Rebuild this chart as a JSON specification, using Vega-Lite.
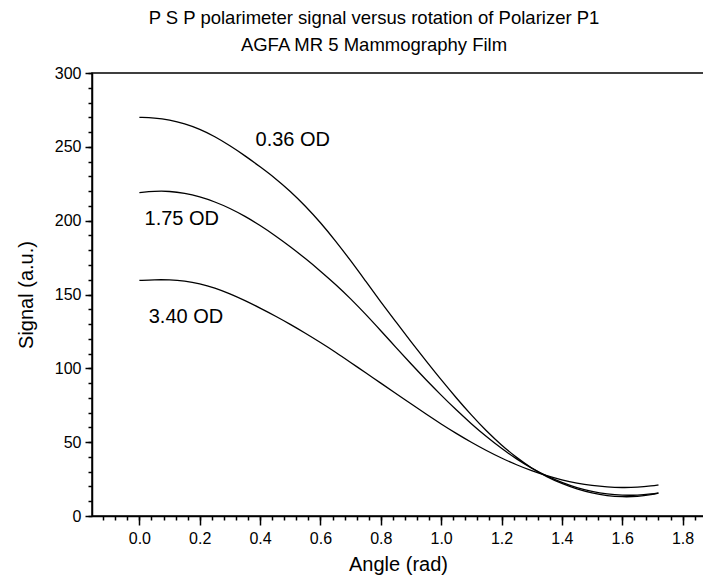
{
  "$schema": "https://vega.github.io/schema/vega-lite/v6.json",
  "autosize": {"type": "none"},
  "padding": {"left": 92, "top": 73, "right": 0, "bottom": 68},
  "width": 612,
  "height": 443,
  "background": "white",
  "config": {
    "font": "Liberation Sans",
    "view": {"stroke": "black", "strokeWidth": 1.5},
    "axis": {"grid": false, "domainColor": "black", "tickColor": "black", "labelColor": "black", "titleColor": "black", "labelFont": "Liberation Sans", "titleFont": "Liberation Sans", "titleFontWeight": "normal"}
  },
  "title": {
    "text": ["P S P polarimeter signal versus rotation of Polarizer P1", "AGFA MR 5 Mammography Film"],
    "fontSize": 18.5,
    "fontWeight": "normal",
    "font": "Liberation Sans",
    "color": "black",
    "anchor": "middle",
    "dx": -24,
    "lineHeight": 27,
    "offset": 11
  },
  "datasets": {
    "curves": [
      {"angle": 0.00, "signal": 270, "film": "0.36 OD"},
      {"angle": 0.05, "signal": 269.6, "film": "0.36 OD"},
      {"angle": 0.10, "signal": 268.2, "film": "0.36 OD"},
      {"angle": 0.15, "signal": 265.7, "film": "0.36 OD"},
      {"angle": 0.20, "signal": 262, "film": "0.36 OD"},
      {"angle": 0.25, "signal": 257, "film": "0.36 OD"},
      {"angle": 0.30, "signal": 250.8, "film": "0.36 OD"},
      {"angle": 0.35, "signal": 244, "film": "0.36 OD"},
      {"angle": 0.40, "signal": 236.5, "film": "0.36 OD"},
      {"angle": 0.45, "signal": 228.8, "film": "0.36 OD"},
      {"angle": 0.50, "signal": 220, "film": "0.36 OD"},
      {"angle": 0.55, "signal": 210, "film": "0.36 OD"},
      {"angle": 0.60, "signal": 198.8, "film": "0.36 OD"},
      {"angle": 0.65, "signal": 186.3, "film": "0.36 OD"},
      {"angle": 0.70, "signal": 173, "film": "0.36 OD"},
      {"angle": 0.75, "signal": 159, "film": "0.36 OD"},
      {"angle": 0.80, "signal": 145, "film": "0.36 OD"},
      {"angle": 0.85, "signal": 131.5, "film": "0.36 OD"},
      {"angle": 0.90, "signal": 118, "film": "0.36 OD"},
      {"angle": 0.95, "signal": 105, "film": "0.36 OD"},
      {"angle": 1.00, "signal": 92.2, "film": "0.36 OD"},
      {"angle": 1.05, "signal": 80, "film": "0.36 OD"},
      {"angle": 1.10, "signal": 68.3, "film": "0.36 OD"},
      {"angle": 1.15, "signal": 57.5, "film": "0.36 OD"},
      {"angle": 1.20, "signal": 47.9, "film": "0.36 OD"},
      {"angle": 1.25, "signal": 39.5, "film": "0.36 OD"},
      {"angle": 1.30, "signal": 32.3, "film": "0.36 OD"},
      {"angle": 1.35, "signal": 26.5, "film": "0.36 OD"},
      {"angle": 1.40, "signal": 21.9, "film": "0.36 OD"},
      {"angle": 1.45, "signal": 18.2, "film": "0.36 OD"},
      {"angle": 1.50, "signal": 15.5, "film": "0.36 OD"},
      {"angle": 1.55, "signal": 13.7, "film": "0.36 OD"},
      {"angle": 1.60, "signal": 12.9, "film": "0.36 OD"},
      {"angle": 1.65, "signal": 13.1, "film": "0.36 OD"},
      {"angle": 1.70, "signal": 14.6, "film": "0.36 OD"},
      {"angle": 1.72, "signal": 15.5, "film": "0.36 OD"},
      {"angle": 0.00, "signal": 219, "film": "1.75 OD"},
      {"angle": 0.05, "signal": 220, "film": "1.75 OD"},
      {"angle": 0.10, "signal": 220, "film": "1.75 OD"},
      {"angle": 0.15, "signal": 218.6, "film": "1.75 OD"},
      {"angle": 0.20, "signal": 216.2, "film": "1.75 OD"},
      {"angle": 0.25, "signal": 212.8, "film": "1.75 OD"},
      {"angle": 0.30, "signal": 208.4, "film": "1.75 OD"},
      {"angle": 0.35, "signal": 203, "film": "1.75 OD"},
      {"angle": 0.40, "signal": 196.8, "film": "1.75 OD"},
      {"angle": 0.45, "signal": 189.9, "film": "1.75 OD"},
      {"angle": 0.50, "signal": 182.4, "film": "1.75 OD"},
      {"angle": 0.55, "signal": 174.4, "film": "1.75 OD"},
      {"angle": 0.60, "signal": 165.9, "film": "1.75 OD"},
      {"angle": 0.65, "signal": 156.9, "film": "1.75 OD"},
      {"angle": 0.70, "signal": 147.2, "film": "1.75 OD"},
      {"angle": 0.75, "signal": 136.6, "film": "1.75 OD"},
      {"angle": 0.80, "signal": 125.5, "film": "1.75 OD"},
      {"angle": 0.85, "signal": 114.2, "film": "1.75 OD"},
      {"angle": 0.90, "signal": 103, "film": "1.75 OD"},
      {"angle": 0.95, "signal": 92.2, "film": "1.75 OD"},
      {"angle": 1.00, "signal": 81.8, "film": "1.75 OD"},
      {"angle": 1.05, "signal": 71.8, "film": "1.75 OD"},
      {"angle": 1.10, "signal": 62.4, "film": "1.75 OD"},
      {"angle": 1.15, "signal": 53.7, "film": "1.75 OD"},
      {"angle": 1.20, "signal": 45.7, "film": "1.75 OD"},
      {"angle": 1.25, "signal": 38.5, "film": "1.75 OD"},
      {"angle": 1.30, "signal": 32.3, "film": "1.75 OD"},
      {"angle": 1.35, "signal": 27, "film": "1.75 OD"},
      {"angle": 1.40, "signal": 22.6, "film": "1.75 OD"},
      {"angle": 1.45, "signal": 19.1, "film": "1.75 OD"},
      {"angle": 1.50, "signal": 16.6, "film": "1.75 OD"},
      {"angle": 1.55, "signal": 14.9, "film": "1.75 OD"},
      {"angle": 1.60, "signal": 14, "film": "1.75 OD"},
      {"angle": 1.65, "signal": 14, "film": "1.75 OD"},
      {"angle": 1.70, "signal": 15, "film": "1.75 OD"},
      {"angle": 1.72, "signal": 15.6, "film": "1.75 OD"},
      {"angle": 0.00, "signal": 159.5, "film": "3.40 OD"},
      {"angle": 0.05, "signal": 160, "film": "3.40 OD"},
      {"angle": 0.10, "signal": 160, "film": "3.40 OD"},
      {"angle": 0.15, "signal": 159.2, "film": "3.40 OD"},
      {"angle": 0.20, "signal": 157.4, "film": "3.40 OD"},
      {"angle": 0.25, "signal": 154.5, "film": "3.40 OD"},
      {"angle": 0.30, "signal": 150.5, "film": "3.40 OD"},
      {"angle": 0.35, "signal": 145.9, "film": "3.40 OD"},
      {"angle": 0.40, "signal": 140.8, "film": "3.40 OD"},
      {"angle": 0.45, "signal": 135.5, "film": "3.40 OD"},
      {"angle": 0.50, "signal": 129.8, "film": "3.40 OD"},
      {"angle": 0.55, "signal": 123.8, "film": "3.40 OD"},
      {"angle": 0.60, "signal": 117.5, "film": "3.40 OD"},
      {"angle": 0.65, "signal": 111, "film": "3.40 OD"},
      {"angle": 0.70, "signal": 104, "film": "3.40 OD"},
      {"angle": 0.75, "signal": 97, "film": "3.40 OD"},
      {"angle": 0.80, "signal": 90, "film": "3.40 OD"},
      {"angle": 0.85, "signal": 83, "film": "3.40 OD"},
      {"angle": 0.90, "signal": 76, "film": "3.40 OD"},
      {"angle": 0.95, "signal": 69, "film": "3.40 OD"},
      {"angle": 1.00, "signal": 62.3, "film": "3.40 OD"},
      {"angle": 1.05, "signal": 55.9, "film": "3.40 OD"},
      {"angle": 1.10, "signal": 49.9, "film": "3.40 OD"},
      {"angle": 1.15, "signal": 44.3, "film": "3.40 OD"},
      {"angle": 1.20, "signal": 39.2, "film": "3.40 OD"},
      {"angle": 1.25, "signal": 34.6, "film": "3.40 OD"},
      {"angle": 1.30, "signal": 30.6, "film": "3.40 OD"},
      {"angle": 1.35, "signal": 27.2, "film": "3.40 OD"},
      {"angle": 1.40, "signal": 24.4, "film": "3.40 OD"},
      {"angle": 1.45, "signal": 22.2, "film": "3.40 OD"},
      {"angle": 1.50, "signal": 20.6, "film": "3.40 OD"},
      {"angle": 1.55, "signal": 19.6, "film": "3.40 OD"},
      {"angle": 1.60, "signal": 19.2, "film": "3.40 OD"},
      {"angle": 1.65, "signal": 19.4, "film": "3.40 OD"},
      {"angle": 1.70, "signal": 20.4, "film": "3.40 OD"},
      {"angle": 1.72, "signal": 21, "film": "3.40 OD"}
    ],
    "labels": [
      {"angle": 0.385, "signal": 254.5, "film": "0.36 OD"},
      {"angle": 0.017, "signal": 201, "film": "1.75 OD"},
      {"angle": 0.031, "signal": 135, "film": "3.40 OD"}
    ]
  },
  "layer": [
    {
      "data": {"name": "curves"},
      "mark": {"type": "line", "color": "black", "strokeWidth": 1.3, "interpolate": "basis", "clip": true},
      "encoding": {
        "x": {
          "field": "angle", "type": "quantitative",
          "scale": {"domain": [-0.157, 1.871], "nice": false, "zero": false},
          "axis": {
            "title": "Angle (rad)", "titleFontSize": 20, "titlePadding": 8,
            "values": [0, 0.2, 0.4, 0.6, 0.8, 1.0, 1.2, 1.4, 1.6, 1.8],
            "format": ".1f", "labelFontSize": 16, "labelPadding": 5,
            "tickSize": 9, "tickWidth": 1.5, "domainWidth": 1.5, "labelFlush": false
          }
        },
        "y": {
          "field": "signal", "type": "quantitative",
          "scale": {"domain": [0, 300], "nice": false},
          "axis": {
            "title": "Signal (a.u.)", "titleFontSize": 20, "titlePadding": 18,
            "values": [0, 50, 100, 150, 200, 250, 300],
            "labelFontSize": 16, "labelPadding": 4,
            "tickSize": 7, "tickWidth": 1.5, "domainWidth": 1.5
          }
        },
        "detail": {"field": "film"}
      }
    },
    {
      "data": {"name": "labels"},
      "mark": {"type": "text", "align": "left", "baseline": "middle", "fontSize": 20, "font": "Liberation Sans", "color": "black"},
      "encoding": {
        "x": {
          "field": "angle", "type": "quantitative",
          "axis": {
            "title": null, "labels": false, "domain": false, "orient": "bottom",
            "values": [-0.12, -0.08, -0.04, 0, 0.04, 0.08, 0.12, 0.16, 0.2, 0.24, 0.28, 0.32, 0.36, 0.4, 0.44, 0.48, 0.52, 0.56, 0.6, 0.64, 0.68, 0.72, 0.76, 0.8, 0.84, 0.88, 0.92, 0.96, 1.0, 1.04, 1.08, 1.12, 1.16, 1.2, 1.24, 1.28, 1.32, 1.36, 1.4, 1.44, 1.48, 1.52, 1.56, 1.6, 1.64, 1.68, 1.72, 1.76, 1.8, 1.84],
            "tickSize": 4, "tickWidth": 1.5
          }
        },
        "y": {
          "field": "signal", "type": "quantitative",
          "axis": {
            "title": null, "labels": false, "domain": false, "orient": "left",
            "values": [0, 10, 20, 30, 40, 50, 60, 70, 80, 90, 100, 110, 120, 130, 140, 150, 160, 170, 180, 190, 200, 210, 220, 230, 240, 250, 260, 270, 280, 290, 300],
            "tickSize": 4, "tickWidth": 1.5
          }
        },
        "text": {"field": "film"}
      }
    }
  ],
  "resolve": {"axis": {"x": "independent", "y": "independent"}}
}
